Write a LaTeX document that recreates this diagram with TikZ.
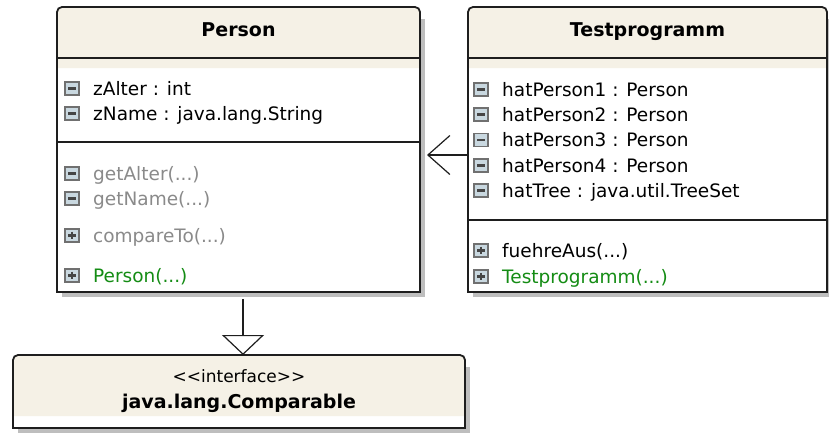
\documentclass[tikz,border=0pt]{standalone}
\usepackage{fontspec}
\setmainfont{DejaVu Sans}
\usetikzlibrary{arrows.meta}

\definecolor{headfill}{HTML}{F5F1E6}
\definecolor{shadowgray}{HTML}{BEBEBE}
\definecolor{iconfill}{HTML}{C9D8E0}
\definecolor{icondraw}{HTML}{707070}
\definecolor{iconbar}{HTML}{454545}
\definecolor{mutedtext}{HTML}{8A8A8A}
\definecolor{ctorgreen}{HTML}{148C14}
\definecolor{edgecol}{HTML}{1E1E1E}

\tikzset{
  x=1pt, y=-1pt,
  classbox/.style={rectangle, inner sep=0pt, outer sep=0pt, draw=none},
  boxline/.style={draw=edgecol, line width=1.8pt},
  sepline/.style={draw=edgecol, line width=1.4pt},
  member/.style={anchor=base west, inner sep=0pt, font=\fontsize{18.5}{20}\selectfont},
  muted/.style={member, text=mutedtext},
  ctor/.style={member, text=ctorgreen},
  classtitle/.style={anchor=base, inner sep=0pt, font=\fontsize{19}{21}\selectfont\bfseries},
  stereo/.style={anchor=base, inner sep=0pt, font=\fontsize{17}{19}\selectfont},
  assoc/.style={draw=edgecol, line width=1.2pt, -{Straight Barb[length=22pt,width=39pt]}},
  gen/.style={draw=edgecol, line width=1.2pt, -{Triangle[open,length=20pt,width=42pt]}},
  minusicon/.pic={
    \draw[icondraw, fill=iconfill, line width=1.6pt] (0,-13) rectangle (14,0);
    \draw[iconbar, line width=2.6pt] (3.2,-6.5) -- (10.8,-6.5);
  },
  plusicon/.pic={
    \draw[icondraw, fill=iconfill, line width=1.6pt] (0,-13) rectangle (14,0);
    \draw[iconbar, line width=2.6pt] (3.2,-6.5) -- (10.8,-6.5) (7,-10.3) -- (7,-2.7);
  },
}

% shadow, white body, beige header and outline of a class box
\newcommand\umlframe[2]{% name, bottom of the beige header fill
  \fill[shadowgray] ([shift={(5pt,-12pt)}]#1.north west) rectangle ([shift={(5pt,-5pt)}]#1.south east);
  \fill[white] (#1.north west) rectangle (#1.south east);
  \fill[headfill] (#1.west |- 0,#2) [rounded corners=5pt] -- (#1.north west) -- (#1.north east) [sharp corners] -- (#1.east |- 0,#2) -- cycle;
  \draw[boxline] (#1.south east) -- (#1.south west) [rounded corners=5pt] -- (#1.north west) -- (#1.north east) [sharp corners] -- cycle;
}

\begin{document}
\begin{tikzpicture}
\useasboundingbox (0,0) rectangle (829,432);

% class boxes
\node[classbox, minimum width=363pt, minimum height=285pt] (person)   at (238.5,149.5) {};
\node[classbox, minimum width=359pt, minimum height=285pt] (testprog) at (647.5,149.5) {};
\node[classbox, minimum width=452pt, minimum height=73pt]  (iface)    at (239,391.5) {};

\umlframe{person}{68}
\umlframe{testprog}{68}
\umlframe{iface}{416}

% compartment separators
\draw[sepline] (person.west |- 0,58) -- (person.east |- 0,58);
\draw[sepline] (person.west |- 0,142) -- (person.east |- 0,142);
\draw[sepline] (testprog.west |- 0,58) -- (testprog.east |- 0,58);
\draw[sepline] (testprog.west |- 0,220) -- (testprog.east |- 0,220);

% Person
\node[classtitle] (person-title) at (person.north |- 0,36) {Person};
\pic at (65,95)  {minusicon};
\node[member] (person-a1) at (93,95)  {zAlter : int};
\pic at (65,120) {minusicon};
\node[member] (person-a2) at (93,120) {zName : java.lang.String};
\pic at (65,180) {minusicon};
\node[muted]  (person-m1) at (93,180) {getAlter(...)};
\pic at (65,205) {minusicon};
\node[muted]  (person-m2) at (93,205) {getName(...)};
\pic at (65,242) {plusicon};
\node[muted]  (person-m3) at (93,242) {compareTo(...)};
\pic at (65,282) {plusicon};
\node[ctor]   (person-c1) at (93,282) {Person(...)};

% Testprogramm
\node[classtitle] (testprog-title) at (testprog.north |- 0,36) {Testprogramm};
\pic at (474,96)    {minusicon};
\node[member] (testprog-a1) at (502,96)    {hatPerson1 : Person};
\pic at (474,121)   {minusicon};
\node[member] (testprog-a2) at (502,121)   {hatPerson2 : Person};
\pic at (474,146.5) {minusicon};
\node[member] (testprog-a3) at (502,146.5) {hatPerson3 : Person};
\pic at (474,172)   {minusicon};
\node[member] (testprog-a4) at (502,172)   {hatPerson4 : Person};
\pic at (474,197)   {minusicon};
\node[member] (testprog-a5) at (502,197)   {hatTree : java.util.TreeSet};
\pic at (474,257)   {plusicon};
\node[member] (testprog-m1) at (502,257)   {fuehreAus(...)};
\pic at (474,283)   {plusicon};
\node[ctor]   (testprog-c1) at (502,283)   {Testprogramm(...)};

% interface
\node[stereo]     (iface-stereo) at (iface.north |- 0,382) {<{}<interface>{}>};
\node[classtitle] (iface-title)  at (iface.north |- 0,408) {java.lang.Comparable};

% association Testprogramm -> Person
\coordinate (asctip) at ([xshift=7pt]person.east);
\draw[assoc] (testprog.west |- 0,155) -- (asctip |- 0,155);

% Person realizes Comparable
\coordinate (genstart) at ([shift={(4.5pt,-7pt)}]person.south);
\draw[gen] (genstart) -- (genstart |- iface.north);
\end{tikzpicture}
\end{document}
